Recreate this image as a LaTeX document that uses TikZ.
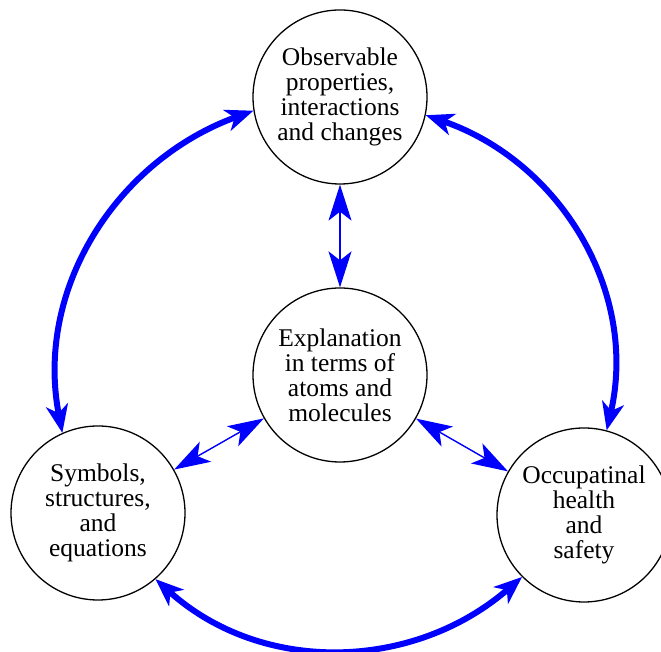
\documentclass[tikz,border=0pt]{standalone}
\usepackage{fontspec}
\setmainfont{Liberation Serif}
\usetikzlibrary{arrows.meta}
\begin{document}
\begin{tikzpicture}[x=1pt,y=1pt,
  topic/.style={circle, draw, line width=1.3pt, minimum size=174pt, inner sep=0pt,
    align=center, font=\fontsize{25.5}{25}\selectfont},
  linkthin/.style={draw=blue, line width=1.4pt,
    {Stealth[length=36pt,width=23pt,inset=9pt]}-{Stealth[length=36pt,width=23pt,inset=9pt]}},
  linkthick/.style={draw=blue, line width=6pt,
    {Stealth[length=28pt,width=22pt,inset=8pt]}-{Stealth[length=28pt,width=22pt,inset=8pt]}}
]
\useasboundingbox (0,0) rectangle (661,652);
\node[topic] (top) at (340,555) {Observable\\properties,\\interactions\\and changes};
\node[topic] (mid) at (340,277) {Explanation\\in terms of\\atoms and\\molecules};
\node[topic] (left) at (98,139) {Symbols,\\structures,\\and\\equations};
\node[topic] (right) at (584,137) {Occupatinal\\health\\and\\safety};
\draw[linkthin] (top) -- (mid);
\draw[linkthin] (mid) -- (left);
\draw[linkthin] (mid) -- (right);
\draw[linkthick] (top.189) to[out=200, in=101] (left.114);
\draw[linkthick] (top.348) to[out=-19, in=77] (right.75);
\draw[linkthick] (left.-49) to[out=-42, in=221] (right.225);
\end{tikzpicture}
\end{document}
